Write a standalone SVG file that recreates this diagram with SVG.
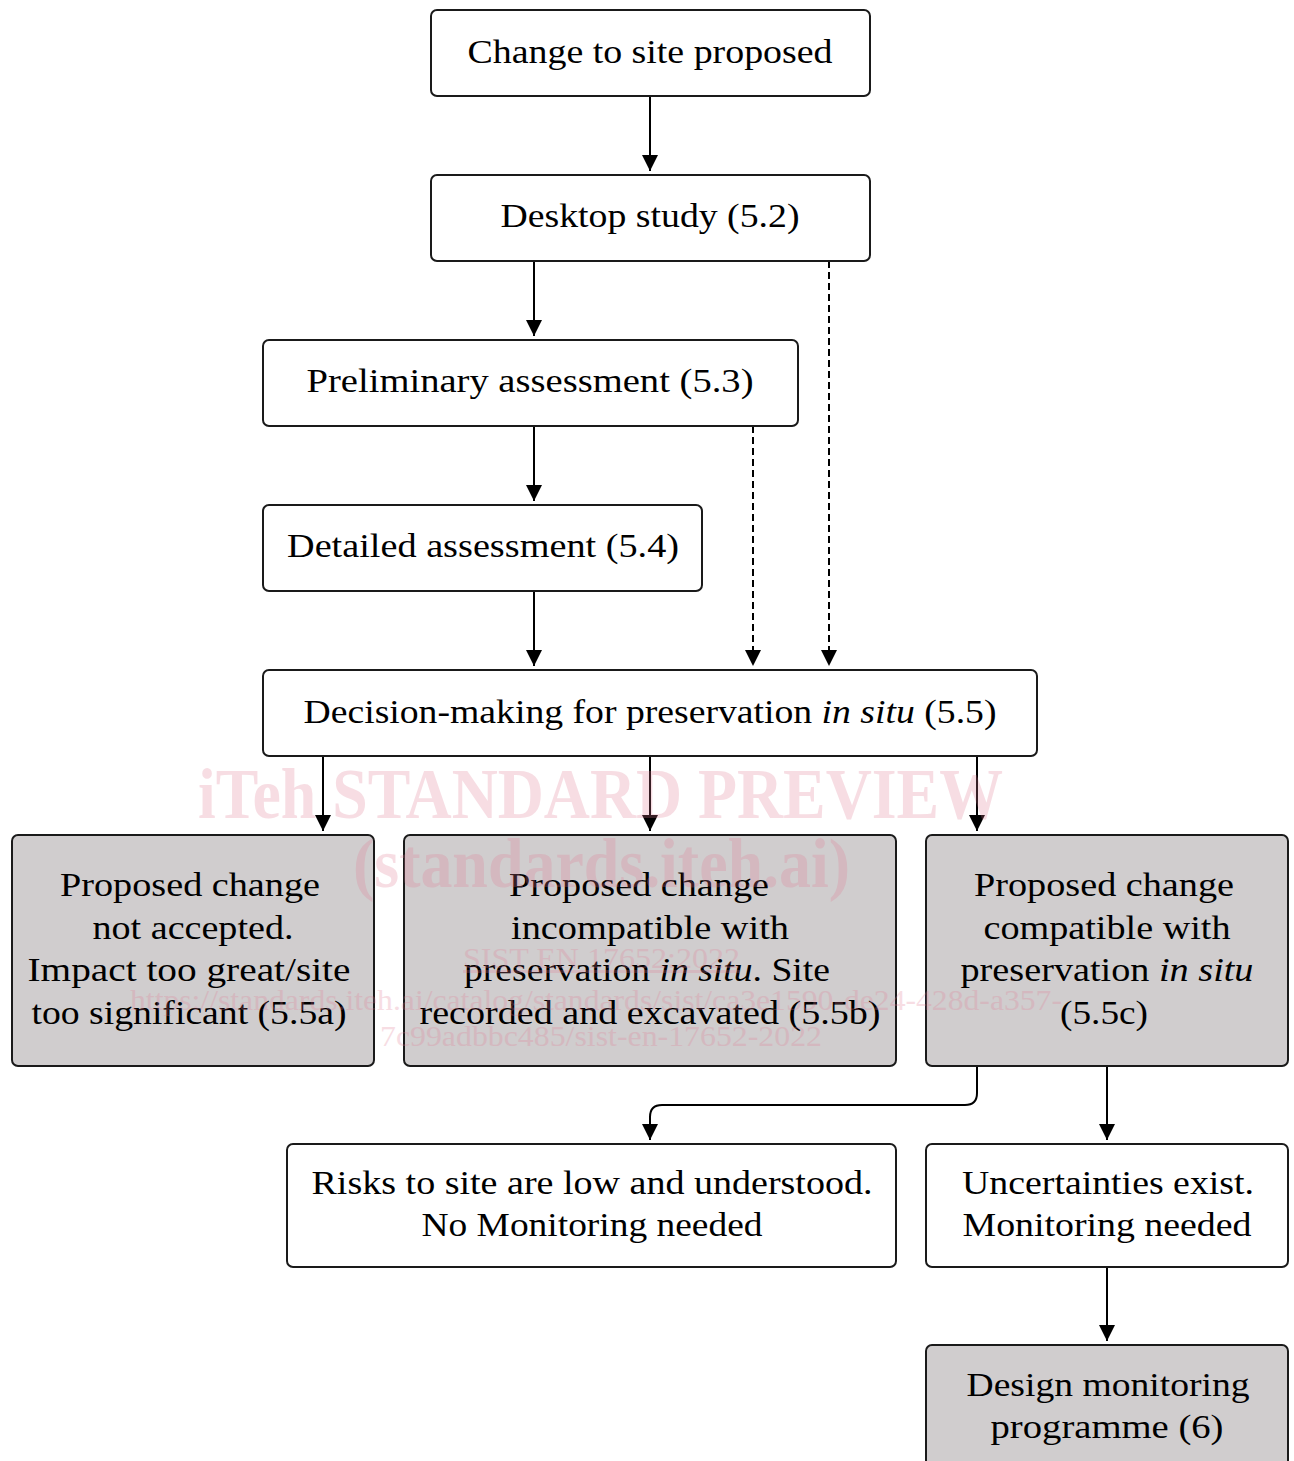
<svg xmlns="http://www.w3.org/2000/svg" width="1294" height="1461" viewBox="0 0 1294 1461">
<style>
.box{fill:#fff;stroke:#1a1a1a;stroke-width:2}
.gray{fill:#d0cdce}
.t{font-family:"Liberation Serif",serif;font-size:34px;fill:#000;text-anchor:middle}
.i{font-style:italic}
.c{fill:none;stroke:#000;stroke-width:2}
.d{stroke-dasharray:7 4}
.wm{font-family:"Liberation Serif",serif;fill:#e07b93;opacity:.25;text-anchor:start}
</style>
<defs>
<marker id="ah" viewBox="0 0 10 10" refX="10" refY="5" markerUnits="userSpaceOnUse" markerWidth="18" markerHeight="16" orient="auto">
<path d="M0,0 L10,5 L0,10 z" fill="#000"/>
</marker>
</defs>
<rect width="1294" height="1461" fill="#fff"/>

<g id="connectors">
<line class="c" x1="650" y1="96" x2="650" y2="171" marker-end="url(#ah)"/>
<line class="c" x1="534" y1="261" x2="534" y2="336" marker-end="url(#ah)"/>
<line class="c d" x1="829" y1="261" x2="829" y2="666" marker-end="url(#ah)"/>
<line class="c" x1="534" y1="426" x2="534" y2="501" marker-end="url(#ah)"/>
<line class="c d" x1="753" y1="426" x2="753" y2="666" marker-end="url(#ah)"/>
<line class="c" x1="534" y1="591" x2="534" y2="666" marker-end="url(#ah)"/>
<line class="c" x1="323" y1="756" x2="323" y2="831" marker-end="url(#ah)"/>
<line class="c" x1="650" y1="756" x2="650" y2="831" marker-end="url(#ah)"/>
<line class="c" x1="977" y1="756" x2="977" y2="831" marker-end="url(#ah)"/>
<path class="c" d="M977,1066 V1093 Q977,1105 965,1105 H662 Q650,1105 650,1117 V1140" marker-end="url(#ah)"/>
<line class="c" x1="1107" y1="1066" x2="1107" y2="1140" marker-end="url(#ah)"/>
<line class="c" x1="1107" y1="1267" x2="1107" y2="1341" marker-end="url(#ah)"/>
</g>

<g id="n-change">
<rect class="box" x="431" y="10" width="439" height="86" rx="6"/>
<text class="t" x="650" y="63" textLength="365" lengthAdjust="spacingAndGlyphs">Change to site proposed</text>
</g>
<g id="n-desktop">
<rect class="box" x="431" y="175" width="439" height="86" rx="6"/>
<text class="t" x="650" y="227" textLength="299" lengthAdjust="spacingAndGlyphs">Desktop study (5.2)</text>
</g>
<g id="n-prelim">
<rect class="box" x="263" y="340" width="535" height="86" rx="6"/>
<text class="t" x="530" y="392" textLength="447" lengthAdjust="spacingAndGlyphs">Preliminary assessment (5.3)</text>
</g>
<g id="n-detailed">
<rect class="box" x="263" y="505" width="439" height="86" rx="6"/>
<text class="t" x="483" y="557" textLength="392" lengthAdjust="spacingAndGlyphs">Detailed assessment (5.4)</text>
</g>
<g id="n-decision">
<rect class="box" x="263" y="670" width="774" height="86" rx="6"/>
<text class="t" x="650" y="723" textLength="693" lengthAdjust="spacingAndGlyphs">Decision-making for preservation <tspan class="i">in situ</tspan> (5.5)</text>
</g>
<g id="n-55a">
<rect class="box gray" x="12" y="835" width="362" height="231" rx="6"/>
<text class="t" x="190" y="896" textLength="260" lengthAdjust="spacingAndGlyphs">Proposed change</text>
<text class="t" x="193" y="939" textLength="201" lengthAdjust="spacingAndGlyphs">not accepted.</text>
<text class="t" x="189" y="981" textLength="323" lengthAdjust="spacingAndGlyphs">Impact too great/site</text>
<text class="t" x="189" y="1024" textLength="315" lengthAdjust="spacingAndGlyphs">too significant (5.5a)</text>
</g>
<g id="n-55b">
<rect class="box gray" x="404" y="835" width="492" height="231" rx="6"/>
<text class="t" x="639" y="896" textLength="260" lengthAdjust="spacingAndGlyphs">Proposed change</text>
<text class="t" x="650" y="939" textLength="278" lengthAdjust="spacingAndGlyphs">incompatible with</text>
<text class="t" x="647" y="981" textLength="366" lengthAdjust="spacingAndGlyphs">preservation <tspan class="i">in situ</tspan>. Site</text>
<text class="t" x="650" y="1024" textLength="461" lengthAdjust="spacingAndGlyphs">recorded and excavated (5.5b)</text>
</g>
<g id="n-55c">
<rect class="box gray" x="926" y="835" width="362" height="231" rx="6"/>
<text class="t" x="1104" y="896" textLength="260" lengthAdjust="spacingAndGlyphs">Proposed change</text>
<text class="t" x="1107" y="939" textLength="247" lengthAdjust="spacingAndGlyphs">compatible with</text>
<text class="t" x="1107" y="981" textLength="293" lengthAdjust="spacingAndGlyphs">preservation <tspan class="i">in situ</tspan></text>
<text class="t" x="1104" y="1024" textLength="88" lengthAdjust="spacingAndGlyphs">(5.5c)</text>
</g>
<g id="n-risks">
<rect class="box" x="287" y="1144" width="609" height="123" rx="6"/>
<text class="t" x="592" y="1194" textLength="561" lengthAdjust="spacingAndGlyphs">Risks to site are low and understood.</text>
<text class="t" x="592" y="1236" textLength="341" lengthAdjust="spacingAndGlyphs">No Monitoring needed</text>
</g>
<g id="n-uncert">
<rect class="box" x="926" y="1144" width="362" height="123" rx="6"/>
<text class="t" x="1108" y="1194" textLength="292" lengthAdjust="spacingAndGlyphs">Uncertainties exist.</text>
<text class="t" x="1107" y="1236" textLength="289" lengthAdjust="spacingAndGlyphs">Monitoring needed</text>
</g>
<g id="n-design">
<rect class="box gray" x="926" y="1345" width="362" height="130" rx="6"/>
<text class="t" x="1108" y="1396" textLength="283" lengthAdjust="spacingAndGlyphs">Design monitoring</text>
<text class="t" x="1107" y="1438" textLength="233" lengthAdjust="spacingAndGlyphs">programme (6)</text>
</g>

<g id="watermark">
<text class="wm" x="198" y="818" font-size="72" font-weight="bold" textLength="805" lengthAdjust="spacingAndGlyphs">iTeh STANDARD PREVIEW</text>
<text class="wm" x="353" y="887" font-size="70" font-weight="bold" textLength="497" lengthAdjust="spacingAndGlyphs">(standards.iteh.ai)</text>
<text class="wm" x="463" y="968" font-size="30" text-decoration="underline" textLength="277" lengthAdjust="spacingAndGlyphs">SIST EN 17652:2022</text>
<text class="wm" x="130" y="1010" font-size="30" textLength="932" lengthAdjust="spacingAndGlyphs">https://standards.iteh.ai/catalog/standards/sist/ca3e1590-de24-428d-a357-</text>
<text class="wm" x="380" y="1046" font-size="30" textLength="442" lengthAdjust="spacingAndGlyphs">7c99adbbc485/sist-en-17652-2022</text>
</g>
</svg>
